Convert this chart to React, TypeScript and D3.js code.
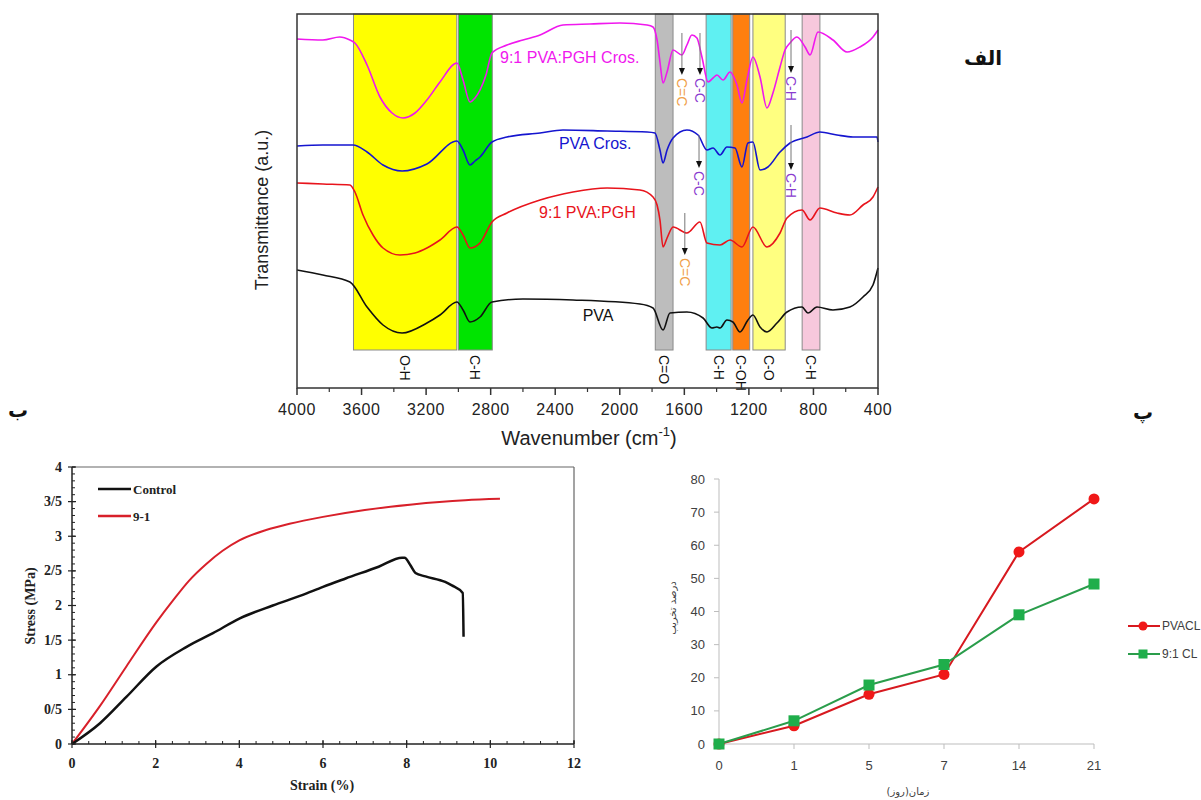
import React from 'react';
import * as d3 from 'd3';

// ---------- panel الف : FTIR spectra ----------
const wnTicks = [4000, 3600, 3200, 2800, 2400, 2000, 1600, 1200, 800, 400];
const wnMinor = [3800, 3400, 3000, 2600, 2200, 1800, 1400, 1000, 600];
const bandRanges = [[3650, 3010], [3000, 2790], [1780, 1670], [1465, 1310], [1300, 1195], [1175, 975], [870, 760]];
const bandLabels = ['O-H', 'C-H', 'C=O', 'C-H', 'C-OH', 'C-O', 'C-H'];
const bandFills = ['#ffff00', '#00e400', '#bdbdbd', '#5ff0f2', '#ff7f0f', '#ffff80', '#f7c8dc'];

const seriesNames = ['9:1 PVA:PGH Cros.', 'PVA Cros.', '9:1 PVA:PGH', 'PVA'];
const seriesColors = ['#f018ee', '#1515cf', '#e8141c', '#111111'];

// [wavenumber, transmittance (a.u., offset)]
const pghCros = [
  [4000, 34.9], [3840, 34.8], [3735, 35.1], [3672, 34.8], [3641, 34.5], [3566, 32.3], [3486, 29.1],
  [3411, 27.5], [3343, 27.0], [3269, 27.5], [3195, 28.8], [3114, 30.6], [3009, 32.5], [2971, 30.8],
  [2928, 28.6], [2897, 29.0], [2866, 29.8], [2829, 31.3], [2792, 33.5], [2699, 34.3], [2600, 34.8],
  [2494, 35.3], [2352, 36.3], [2185, 36.4], [1999, 36.5], [1831, 36.3], [1794, 36.1], [1769, 34.8],
  [1751, 32.6], [1732, 30.5], [1707, 31.6], [1670, 33.8], [1615, 33.3], [1584, 34.3], [1553, 35.3],
  [1522, 35.0], [1491, 33.1], [1453, 30.6], [1422, 31.0], [1398, 31.3], [1360, 30.8], [1317, 31.6],
  [1274, 30.3], [1243, 28.5], [1212, 30.8], [1175, 33.1], [1131, 31.1], [1088, 28.0], [1051, 29.5],
  [1007, 32.1], [976, 33.8], [945, 34.5], [902, 35.1], [852, 34.1], [821, 33.3], [772, 35.6],
  [679, 34.8], [592, 33.6], [512, 34.1], [431, 35.1], [400, 35.8],
];
const pvaCros = [
  [4000, 24.2], [3840, 24.3], [3653, 24.3], [3566, 23.6], [3467, 22.3], [3349, 21.7], [3195, 22.4],
  [3009, 24.7], [2971, 23.8], [2928, 22.3], [2897, 22.7], [2866, 23.1], [2792, 24.6], [2699, 25.1],
  [2494, 25.5], [2352, 25.8], [2079, 25.7], [1831, 25.6], [1782, 25.5], [1751, 23.8], [1732, 22.5],
  [1707, 23.8], [1670, 25.0], [1584, 25.8], [1515, 25.3], [1460, 23.8], [1422, 24.0], [1379, 23.3],
  [1336, 24.1], [1286, 24.0], [1243, 22.1], [1206, 24.5], [1175, 24.6], [1131, 21.8], [1082, 22.1],
  [1007, 23.6], [945, 24.5], [840, 25.1], [760, 25.6], [654, 25.3], [555, 25.1], [406, 25.1], [400, 24.6],
];
const pgh = [
  [4000, 20.5], [3840, 20.4], [3672, 20.3], [3641, 19.6], [3591, 17.3], [3529, 15.3], [3467, 14.0],
  [3362, 13.3], [3269, 13.5], [3195, 14.0], [3114, 14.8], [3009, 16.1], [2971, 15.3], [2928, 14.0],
  [2866, 14.5], [2792, 16.6], [2699, 17.5], [2494, 18.8], [2290, 19.6], [2079, 20.0], [1875, 19.8],
  [1794, 19.1], [1769, 18.3], [1751, 16.8], [1732, 14.1], [1707, 15.0], [1670, 16.1], [1584, 15.5],
  [1503, 16.6], [1460, 14.5], [1379, 14.3], [1317, 14.8], [1243, 14.1], [1175, 16.1], [1088, 14.1],
  [1007, 15.5], [964, 17.0], [871, 17.8], [821, 16.8], [760, 18.0], [654, 17.5], [574, 17.3],
  [493, 18.3], [431, 19.1], [400, 20.1],
];
const pva = [
  [4000, 11.8], [3840, 11.3], [3672, 10.6], [3566, 8.1], [3467, 6.3], [3349, 5.5], [3195, 6.5],
  [3114, 7.3], [3009, 8.6], [2971, 7.8], [2928, 6.6], [2866, 7.1], [2792, 8.6], [2600, 8.9],
  [2290, 8.8], [1875, 8.4], [1794, 8.0], [1732, 5.8], [1689, 7.5], [1584, 7.6], [1484, 7.0],
  [1429, 6.0], [1398, 6.1], [1379, 6.0], [1336, 6.8], [1299, 6.6], [1255, 5.6], [1206, 6.8],
  [1175, 7.3], [1131, 6.1], [1088, 5.6], [1026, 6.5], [964, 7.6], [871, 8.1], [834, 7.5],
  [778, 8.1], [679, 7.8], [574, 8.1], [493, 9.1], [431, 10.3], [400, 12.0],
];
const spectra = [pghCros, pvaCros, pgh, pva];

// peak annotations: wavenumber, arrow top / bottom (a.u.), label
const arrowWn = [1615, 1503, 939, 1509, 939, 1597];
const arrowTop = [35.5, 35.5, 35.8, 25.3, 26.3, 17.5];
const arrowBottom = [31.3, 31.3, 31.5, 22.0, 21.8, 13.3];
const arrowLabels = ['C=C', 'C-C', 'C-H', 'C-C', 'C-H', 'C=C'];

// ---------- panel ب : stress-strain ----------
const controlCurve = [
  [0, 0], [0.67, 0.30], [1.3, 0.68], [2.02, 1.12], [2.73, 1.40], [3.37, 1.60], [4.0, 1.81],
  [4.8, 2.0], [5.5, 2.15], [6.0, 2.27], [6.54, 2.39], [7.33, 2.56], [7.89, 2.69], [7.95, 2.69],
  [8.09, 2.58], [8.21, 2.47], [8.45, 2.42], [8.92, 2.34], [9.08, 2.29], [9.34, 2.18], [9.36, 1.55],
];
const curve91 = [
  [0, 0], [0.67, 0.55], [1.3, 1.12], [2.02, 1.76], [2.41, 2.07], [2.8, 2.36], [3.21, 2.60],
  [3.6, 2.79], [4.0, 2.94], [4.64, 3.09], [5.2, 3.18], [6.0, 3.28], [7.0, 3.38], [8.13, 3.46],
  [9.4, 3.52], [10.23, 3.54],
];
const strainTicks = [0, 2, 4, 6, 8, 10, 12];
const stressTicks = [0, 0.5, 1, 1.5, 2, 2.5, 3, 3.5, 4];
const stressTickLabels = ['0', '0/5', '1', '1/5', '2', '2/5', '3', '3/5', '4'];
const stressLegend = ['Control', '9-1'];

// ---------- panel پ : degradation ----------
const days = ['0', '1', '5', '7', '14', '21'];
const pvaclValues = [0, 5.5, 15, 21, 58, 74];
const cl91Values = [0, 7, 17.8, 24, 39, 48.3];
const degTicks = [0, 10, 20, 30, 40, 50, 60, 70, 80];
const degLegend = ['PVACL', '9:1 CL'];

const sans = '"Liberation Sans", Arial, sans-serif';
const serif = '"Liberation Serif", "Times New Roman", serif';
const fa = '"DejaVu Sans", sans-serif';

function Ftir() {
  const x = d3.scaleLinear().domain([4000, 400]).range([297, 878]);
  const y = d3.scaleLinear().domain([0, 37.4]).range([388, 14]);
  const line = d3.line<number[]>().x(d => x(d[0])).y(d => y(d[1])).curve(d3.curveMonotoneX);
  const bandBottom = y(3.8);
  const labelPos = [[2742, 33.1], [2377, 24.5], [2500, 17.6], [2230, 7.3]];
  return (
    <g>
      {bandRanges.map((b, i) => (
        <g key={i}>
          <rect x={x(b[0])} y={y(37.4)} width={x(b[1]) - x(b[0])} height={bandBottom - y(37.4)}
            fill={bandFills[i]} stroke="#8a8a8a" strokeWidth={1} />
          <text transform={`translate(${(x(b[0]) + x(b[1])) / 2},${bandBottom + 5}) rotate(90)`}
            fontFamily={sans} fontSize={14} fill="#111" dominantBaseline="central">{bandLabels[i]}</text>
        </g>
      ))}
      {spectra.map((s, i) => (
        <path key={i} d={line(s) || ''} fill="none" stroke={seriesColors[i]} strokeWidth={1.6} />
      ))}
      {seriesNames.map((n, i) => (
        <text key={n} x={x(labelPos[i][0])} y={y(labelPos[i][1])} fontFamily={sans} fontSize={16}
          fill={seriesColors[i]} dominantBaseline="central">{n}</text>
      ))}
      {arrowWn.map((w, i) => {
        const ax = x(w);
        const y0 = y(arrowTop[i]);
        const y1 = y(arrowBottom[i]);
        const col = arrowLabels[i] === 'C=C' ? '#f0a048' : '#8a3ccf';
        return (
          <g key={i}>
            <line x1={ax} x2={ax} y1={y0} y2={y1 - 6} stroke="#777" strokeWidth={1} />
            <path d={`M${ax - 3},${y1 - 7}L${ax + 3},${y1 - 7}L${ax},${y1}Z`} fill="#111" />
            <text transform={`translate(${ax},${y1 + 3}) rotate(90)`} fontFamily={sans} fontSize={14}
              fill={col} dominantBaseline="central">{arrowLabels[i]}</text>
          </g>
        );
      })}
      <rect x={297} y={14} width={581} height={374} fill="none" stroke="#333" strokeWidth={1.5} />
      {wnTicks.map(t => (
        <g key={t}>
          <line x1={x(t)} x2={x(t)} y1={388} y2={395} stroke="#333" strokeWidth={1.5} />
          <text x={x(t)} y={409} textAnchor="middle" dominantBaseline="central" fontFamily={sans}
            fontSize={16} fill="#222" letterSpacing={0.6}>{t}</text>
        </g>
      ))}
      {wnMinor.map(t => (
        <line key={t} x1={x(t)} x2={x(t)} y1={388} y2={392} stroke="#333" strokeWidth={1.2} />
      ))}
      <text x={589} y={438} textAnchor="middle" dominantBaseline="central" fontFamily={sans} fontSize={20}
        fill="#222">Wavenumber (cm<tspan dy={-7} fontSize={13}>-1</tspan><tspan dy={7}>)</tspan></text>
      <text transform="translate(262,210) rotate(-90)" textAnchor="middle" dominantBaseline="central"
        fontFamily={sans} fontSize={18} fill="#222">Transmittance (a.u.)</text>
    </g>
  );
}

function Stress() {
  const x = d3.scaleLinear().domain([0, 12]).range([72, 574]);
  const y = d3.scaleLinear().domain([0, 4]).range([744, 467]);
  const line = d3.line<number[]>().x(d => x(d[0])).y(d => y(d[1])).curve(d3.curveMonotoneX);
  const xMinor = d3.range(0, 12.01, 0.4);
  const yMinor = d3.range(0, 4.001, 0.1);
  const colors = ['#111', '#d8202a'];
  return (
    <g>
      <line x1={72} x2={574} y1={467} y2={467} stroke="#666" strokeWidth={1.2} />
      <line x1={574} x2={574} y1={467} y2={744} stroke="#666" strokeWidth={1.2} />
      {xMinor.map((t, i) => (
        <line key={i} x1={x(t)} x2={x(t)} y1={744} y2={741} stroke="#222" strokeWidth={1} />
      ))}
      {yMinor.map((t, i) => (
        <line key={i} x1={72} x2={75} y1={y(t)} y2={y(t)} stroke="#222" strokeWidth={1} />
      ))}
      <path d={line(curve91) || ''} fill="none" stroke={colors[1]} strokeWidth={2} />
      <path d={line(controlCurve) || ''} fill="none" stroke={colors[0]} strokeWidth={2.5} />
      <line x1={72} x2={574} y1={744} y2={744} stroke="#222" strokeWidth={1.5} />
      <line x1={72} x2={72} y1={467} y2={744} stroke="#222" strokeWidth={1.5} />
      {strainTicks.map(t => (
        <g key={t}>
          <line x1={x(t)} x2={x(t)} y1={740} y2={748} stroke="#222" strokeWidth={1.2} />
          <text x={x(t)} y={763} textAnchor="middle" dominantBaseline="central" fontFamily={serif}
            fontWeight="bold" fontSize={14} fill="#222">{t}</text>
        </g>
      ))}
      {stressTicks.map((t, i) => (
        <g key={t}>
          <line x1={68} x2={76} y1={y(t)} y2={y(t)} stroke="#222" strokeWidth={1.2} />
          <text x={62} y={y(t)} textAnchor="end" dominantBaseline="central" fontFamily={serif}
            fontWeight="bold" fontSize={14} fill="#222">{stressTickLabels[i]}</text>
        </g>
      ))}
      {stressLegend.map((n, i) => (
        <g key={n}>
          <line x1={98} x2={131} y1={489 + i * 27} y2={489 + i * 27} stroke={colors[i]} strokeWidth={2.5} />
          <text x={133} y={489 + i * 27} dominantBaseline="central" fontFamily={serif} fontWeight="bold"
            fontSize={13} fill="#222">{n}</text>
        </g>
      ))}
      <text x={322} y={785} textAnchor="middle" dominantBaseline="central" fontFamily={serif}
        fontWeight="bold" fontSize={14} fill="#222">Strain (%)</text>
      <text transform="translate(30,606) rotate(-90)" textAnchor="middle" dominantBaseline="central"
        fontFamily={serif} fontWeight="bold" fontSize={14} fill="#222">Stress (MPa)</text>
    </g>
  );
}

function Degradation() {
  const x = d3.scalePoint<string>().domain(days).range([719, 1094]);
  const y = d3.scaleLinear().domain([0, 80]).range([744, 479]);
  const line = d3.line<number>().x((_, i) => x(days[i]) as number).y(d => y(d));
  const red = '#d7191f';
  const green = '#2a9d4b';
  return (
    <g>
      <line x1={719} x2={719} y1={479} y2={744} stroke="#bdbdbd" strokeWidth={1} />
      <line x1={719} x2={1094} y1={744} y2={744} stroke="#bdbdbd" strokeWidth={1} />
      {degTicks.map(t => (
        <g key={t}>
          <line x1={714} x2={719} y1={y(t)} y2={y(t)} stroke="#bdbdbd" strokeWidth={1} />
          <text x={705} y={y(t)} textAnchor="end" dominantBaseline="central" fontFamily={sans}
            fontSize={13} fill="#404040">{t}</text>
        </g>
      ))}
      {days.map(d => (
        <g key={d}>
          <line x1={x(d)} x2={x(d)} y1={744} y2={749} stroke="#bdbdbd" strokeWidth={1} />
          <text x={x(d)} y={765} textAnchor="middle" dominantBaseline="central" fontFamily={sans}
            fontSize={13} fill="#404040">{d}</text>
        </g>
      ))}
      <path d={line(pvaclValues) || ''} fill="none" stroke={red} strokeWidth={2} />
      <path d={line(cl91Values) || ''} fill="none" stroke={green} strokeWidth={2} />
      {pvaclValues.map((v, i) => (
        <circle key={i} cx={x(days[i])} cy={y(v)} r={5.5} fill="#f01818" />
      ))}
      {cl91Values.map((v, i) => (
        <rect key={i} x={(x(days[i]) as number) - 5.5} y={y(v) - 5.5} width={11} height={11} fill="#1fae4b" />
      ))}
      {degLegend.map((n, i) => {
        const ly = 626 + i * 28;
        return (
          <g key={n}>
            <line x1={1128} x2={1160} y1={ly} y2={ly} stroke={i === 0 ? red : green} strokeWidth={2} />
            {i === 0
              ? <circle cx={1143} cy={ly} r={4.5} fill="#f01818" />
              : <rect x={1138.5} y={ly - 4.5} width={9} height={9} fill="#1fae4b" />}
            <text x={1162} y={ly} dominantBaseline="central" fontFamily={sans} fontSize={12} fill="#404040">{n}</text>
          </g>
        );
      })}
      <text x={908} y={791} textAnchor="middle" dominantBaseline="central" fontFamily={fa} fontSize={10}
        fill="#404040">زمان(روز)</text>
      <text transform="translate(672,608) rotate(-90)" textAnchor="middle" dominantBaseline="central"
        fontFamily={fa} fontSize={10} fill="#404040">درصد تخریب</text>
    </g>
  );
}

export default function App() {
  return (
    <div style={{ position: 'absolute', left: 0, top: 0 }}>
      <svg width={1201} height={800} style={{ display: 'block', background: '#fff' }}>
        <Ftir />
        <Stress />
        <Degradation />
        <text x={983} y={58} textAnchor="middle" dominantBaseline="central" fontFamily={fa} fontWeight="bold"
          fontSize={20} fill="#111">الف</text>
        <text x={18} y={410} textAnchor="middle" dominantBaseline="central" fontFamily={fa} fontWeight="bold"
          fontSize={20} fill="#111">ب</text>
        <text x={1143} y={412} textAnchor="middle" dominantBaseline="central" fontFamily={fa} fontWeight="bold"
          fontSize={20} fill="#111">پ</text>
      </svg>
    </div>
  );
}
